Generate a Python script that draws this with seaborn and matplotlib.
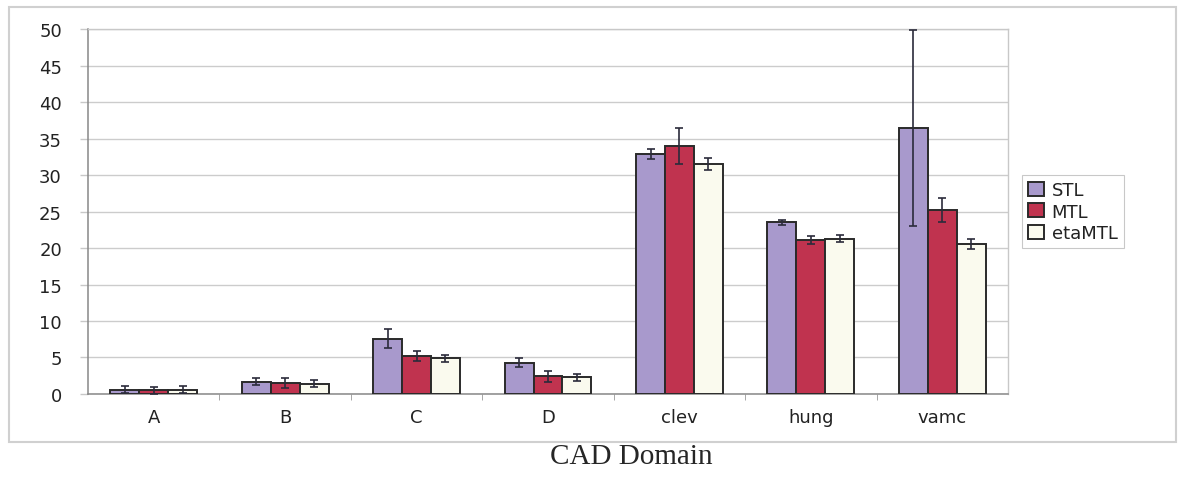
import matplotlib
matplotlib.use("Agg")
import matplotlib.pyplot as plt
import numpy as np
import pandas as pd
import seaborn as sns
from matplotlib.patches import Rectangle

# Per-dataset error (%) for each learning method, with error-bar half widths
categories = ["A", "B", "C", "D", "clev", "hung", "vamc"]
methods = ["STL", "MTL", "etaMTL"]
stl = [0.6, 1.7, 7.6, 4.3, 32.9, 23.5, 36.4]
stl_err = [0.5, 0.5, 1.3, 0.6, 0.7, 0.4, 13.4]
mtl = [0.5, 1.5, 5.2, 2.4, 34.0, 21.1, 25.2]
mtl_err = [0.5, 0.7, 0.7, 0.8, 2.5, 0.5, 1.7]
eta = [0.6, 1.4, 4.9, 2.3, 31.5, 21.3, 20.5]
eta_err = [0.5, 0.5, 0.5, 0.5, 0.8, 0.5, 0.7]
yticks = list(range(0, 51, 5))

colors = ["#a899cc", "#c0334f", "#fafaee"]

sns.set_style("white")
plt.rcParams["font.family"] = ["DejaVu Sans"]

df = pd.DataFrame({
    "category": categories * 3,
    "method": [m for m in methods for _ in categories],
    "value": stl + mtl + eta,
})

fig = plt.figure(figsize=(11.78, 4.81), dpi=100)
ax = fig.add_axes([0.0747, 0.1788, 0.781, 0.7588])

sns.barplot(data=df, x="category", y="value", hue="method", order=categories,
            hue_order=methods, palette=colors, saturation=1, width=0.66, gap=0,
            edgecolor="#2a2a2a", linewidth=1.4, errorbar=None, ax=ax, zorder=3)

# error bars placed on the centres of the drawn bars
for container, err in zip(ax.containers, [stl_err, mtl_err, eta_err]):
    xs = [r.get_x() + r.get_width() / 2 for r in container]
    ys = [r.get_height() for r in container]
    ax.errorbar(xs, ys, yerr=err, fmt="none", ecolor="#2b2b3b",
                elinewidth=1.2, capsize=2.8, capthick=1.2, zorder=4)

ax.set_ylim(0, 50)
ax.set_xlim(-0.5, len(categories) - 0.5)
ax.set_yticks(yticks)
ax.set_xlabel("")
ax.set_ylabel("")
ax.yaxis.grid(True, color="#cccccc", lw=1)
ax.set_axisbelow(True)

ax.tick_params(axis="y", length=5.8, color="#c8c8c8", pad=13, labelsize=13,
               left=True, width=1, labelcolor="#222222")
ax.tick_params(axis="x", which="major", length=0, pad=10, labelsize=13,
               labelcolor="#222222")
ax.set_xticks(np.arange(0.5, len(categories) - 0.5, 1), minor=True)
ax.tick_params(axis="x", which="minor", length=4, color="#999999",
               bottom=True, direction="out")

for side in ["left", "bottom"]:
    ax.spines[side].set_color("#888888")
    ax.spines[side].set_linewidth(1.1)
for side in ["top", "right"]:
    ax.spines[side].set_color("#c8c8c8")
    ax.spines[side].set_linewidth(1)

sns.move_legend(ax, loc="center left", bbox_to_anchor=(1.015, 0.5),
                borderaxespad=0, title=None, frameon=True, fancybox=False,
                fontsize=13, handlelength=0.9, handleheight=0.8,
                handletextpad=0.4, labelspacing=0.2, borderpad=0.35)
leg = ax.get_legend()
leg.get_frame().set_edgecolor("#bbbbbb")
leg.get_frame().set_linewidth(0.8)
for t in leg.get_texts():
    t.set_color("#222222")

fig.patches.append(Rectangle((9 / 1178, 1 - 443 / 481), (1176 - 9) / 1178,
                             (443 - 8) / 481, transform=fig.transFigure,
                             fill=False, edgecolor="#d0d0d0", lw=1.5))

fig.text(631 / 1178, 1 - 457 / 481, "CAD Domain", ha="center", va="center",
         family="Liberation Serif", fontsize=21)

fig.savefig("out.png", dpi=100)
